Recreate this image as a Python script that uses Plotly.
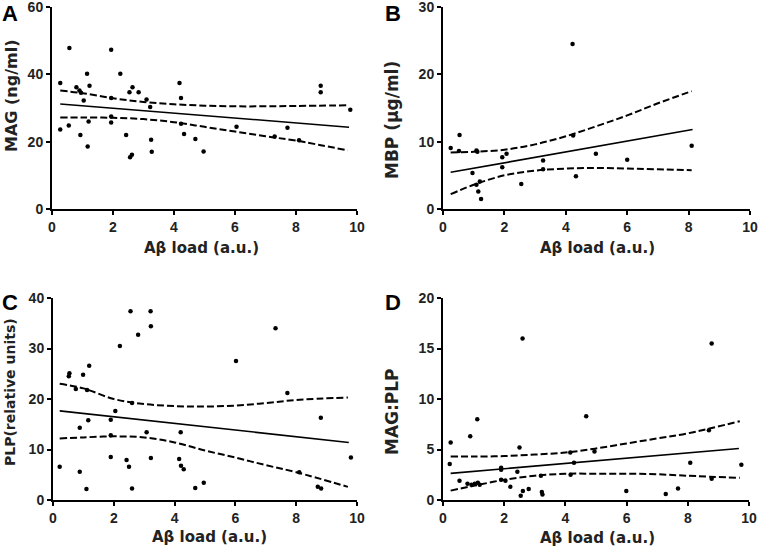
import plotly.graph_objects as go

# ---------------- Data ----------------
# Panel A: MAG (ng/ml)
A_x = [0.27, 0.27, 0.57, 0.55, 0.8, 0.9, 0.95, 1.04, 0.93, 1.15, 1.17, 1.23, 1.2,
       1.94, 1.94, 1.94, 1.94, 2.24, 2.43, 2.54, 2.64, 2.84, 2.56, 2.62, 3.1, 3.22,
       3.25, 3.27, 4.18, 4.23, 4.23, 4.33, 4.7, 4.97, 6.05, 7.3, 7.72, 8.1, 8.81, 8.81, 9.78]
A_y = [37.4, 23.6, 47.8, 24.8, 36.2, 35.2, 34.5, 32.2, 22.0, 40.2, 18.6, 36.6, 26.0,
       47.3, 33.0, 27.5, 25.7, 40.2, 22.0, 34.7, 36.2, 34.7, 15.4, 16.1, 32.5, 30.3,
       20.6, 17.0, 37.4, 33.0, 25.3, 22.3, 20.8, 17.1, 24.4, 21.5, 24.1, 20.4, 36.6, 34.7, 29.5]
A_fit_x = [0.27, 9.74]
A_fit_y = [31.2, 24.3]
A_ci_x = [0.27, 1, 2, 3, 4, 5, 6, 7, 8, 9.7]
A_upper = [35.2, 34.4, 32.9, 31.8, 31.1, 30.7, 30.5, 30.5, 30.6, 30.8]
A_lower = [27.2, 27.2, 27.1, 26.7, 25.8, 24.4, 23.0, 21.6, 20.3, 17.4]

# Panel B: MBP (ug/ml)
B_x = [0.25, 0.54, 0.52, 0.96, 1.09, 1.12, 1.09, 1.2, 1.15, 1.24, 1.93, 2.07, 1.93,
       2.55, 3.26, 3.26, 4.22, 4.24, 4.33, 4.98, 6.0, 8.1]
B_y = [9.06, 11.0, 8.6, 5.35, 8.7, 8.5, 3.6, 4.1, 2.6, 1.5, 7.7, 8.2, 6.2,
       3.7, 7.2, 5.9, 24.5, 10.9, 4.85, 8.2, 7.3, 9.4]
B_fit_x = [0.25, 8.13]
B_fit_y = [5.45, 11.8]
B_ci_x = [0.25, 1, 2, 3, 4, 5, 6, 7, 8.1]
B_upper = [8.4, 8.5, 8.8, 9.6, 10.8, 12.3, 13.9, 15.7, 17.5]
B_lower = [2.2, 3.6, 5.0, 5.7, 6.0, 6.1, 6.0, 5.9, 5.75]

# Panel C: PLP (relative units)
C_x = [0.22, 0.52, 0.54, 0.75, 0.88, 0.88, 0.99, 1.1, 1.12, 1.19, 1.16, 1.9, 1.9, 1.9,
       2.05, 2.2, 2.42, 2.5, 2.55, 2.6, 2.6, 2.8, 3.08, 3.21, 3.22, 3.22, 4.15, 4.2,
       4.21, 4.3, 4.68, 4.96, 6.02, 7.32, 7.71, 8.1, 8.81, 8.71, 8.82, 9.8]
C_y = [6.6, 24.5, 25.1, 22.0, 14.3, 5.6, 24.8, 2.2, 21.8, 26.6, 15.8, 15.9, 12.8, 8.5,
       17.6, 30.5, 7.9, 6.6, 37.4, 2.3, 19.2, 32.7, 13.4, 37.4, 34.4, 8.3, 8.1, 13.4,
       6.8, 6.1, 2.4, 3.4, 27.5, 34.0, 21.2, 5.5, 16.3, 2.6, 2.3, 8.4]
C_fit_x = [0.22, 9.73]
C_fit_y = [17.65, 11.4]
C_ci_x = [0.22, 1, 2, 3, 4, 5, 6, 7, 8, 9.7]
C_upper = [23.0, 22.1, 20.0, 19.0, 18.6, 18.5, 18.7, 19.2, 19.8, 20.3]
C_lower = [12.2, 12.4, 12.6, 12.4, 11.4, 9.8, 8.4, 6.9, 5.5, 2.6]

# Panel D: MAG:PLP
D_x = [0.25, 0.22, 0.54, 0.89, 0.8, 0.93, 1.04, 1.14, 1.2, 1.12, 1.9, 1.9, 1.9, 2.04,
       2.2, 2.43, 2.5, 2.54, 2.6, 2.61, 2.8, 3.2, 3.23, 3.25, 4.16, 4.17, 4.28, 4.68,
       4.95, 5.99, 7.28, 7.68, 8.08, 8.78, 8.69, 8.78, 9.75]
D_y = [5.7, 3.57, 1.9, 6.3, 1.6, 1.5, 1.6, 1.7, 1.5, 8.0, 3.0, 3.2, 2.0, 1.9,
       1.3, 2.8, 5.2, 0.43, 16.0, 0.9, 1.1, 2.4, 0.8, 0.55, 4.7, 2.5, 3.7, 8.3,
       4.8, 0.9, 0.6, 1.15, 3.7, 15.5, 6.9, 2.1, 3.5]
D_fit_x = [0.25, 9.67]
D_fit_y = [2.64, 5.1]
D_ci_x = [0.25, 1, 2, 3, 4, 5, 6, 7, 8, 9.7]
D_upper = [4.3, 4.3, 4.35, 4.5, 4.7, 5.1, 5.6, 6.1, 6.6, 7.8]
D_lower = [0.93, 1.4, 2.0, 2.4, 2.6, 2.6, 2.6, 2.55, 2.4, 2.2]

X_TITLE = "Aβ load (a.u.)"
Y_TITLES = ["MAG (ng/ml)", "MBP (μg/ml)", "PLP(relative units)", "MAG:PLP"]
PANEL_LETTERS = ["A", "B", "C", "D"]
Y_RANGES = [[0, 60], [0, 30], [0, 40], [0, 20]]
Y_DTICKS = [20, 10, 10, 5]

panels = [
    (A_x, A_y, A_fit_x, A_fit_y, A_ci_x, A_upper, A_lower),
    (B_x, B_y, B_fit_x, B_fit_y, B_ci_x, B_upper, B_lower),
    (C_x, C_y, C_fit_x, C_fit_y, C_ci_x, C_upper, C_lower),
    (D_x, D_y, D_fit_x, D_fit_y, D_ci_x, D_upper, D_lower),
]

W, H = 759, 551
# pixel boxes: (left, right, top, bottom)
boxes = [(52, 357, 7, 209), (443, 750, 7, 209), (53, 357, 298, 500), (443, 749, 298, 500)]

TICK_FONT = "Liberation Sans"
TITLE_FONT = "DejaVu Sans"
fig = go.Figure()
layout = dict(width=W, height=H, margin=dict(l=0, r=0, t=0, b=0, autoexpand=False),
              paper_bgcolor="white", plot_bgcolor="white", showlegend=False)
annotations = []

for i, (px, py, fx, fy, cx, cu, cl) in enumerate(panels):
    n = "" if i == 0 else str(i + 1)
    xa, ya = "x" + n, "y" + n
    fig.add_trace(go.Scatter(x=px, y=py, mode="markers", xaxis=xa, yaxis=ya,
                             marker=dict(color="black", size=4.5), cliponaxis=False))
    fig.add_trace(go.Scatter(x=fx, y=fy, mode="lines", xaxis=xa, yaxis=ya,
                             line=dict(color="black", width=1.6)))
    for band in (cu, cl):
        fig.add_trace(go.Scatter(x=cx, y=band, mode="lines", xaxis=xa, yaxis=ya,
                                 line=dict(color="black", width=2, dash="7px,3px", shape="spline")))
    l, r, t, b = boxes[i]
    axis_common = dict(showline=True, linecolor="black", linewidth=2, ticks="outside",
                       ticklen=4, tickwidth=2, tickcolor="black", showgrid=False, zeroline=False,
                       ticklabeloverflow="allow", automargin=False,
                       tickfont=dict(family=TICK_FONT, size=14, color="#222", weight="bold"))
    layout["xaxis" + n] = dict(domain=[l / W, r / W], range=[0, 10], dtick=2, anchor=ya,
                               **axis_common)
    layout["yaxis" + n] = dict(domain=[1 - b / H, 1 - t / H], range=Y_RANGES[i],
                               dtick=Y_DTICKS[i], anchor=xa, **axis_common)

# text placements (pixels)
letter_pos = [(10, 13), (393, 13), (10, 302), (393, 302)]
ytitle_pos = [(11, 96), (392, 120), (10, 392), (392, 412)]
ytitle_size = [16, 17, 14, 17]
xtitle_pos = [(202, 248), (597, 248), (209, 537), (597, 538)]
for i in range(4):
    lx, ly = letter_pos[i]
    annotations.append(dict(text=PANEL_LETTERS[i], x=lx / W, y=1 - ly / H, xref="paper", yref="paper",
                            showarrow=False, xanchor="center", yanchor="middle",
                            font=dict(family=TICK_FONT, size=22, color="black", weight="bold")))
    tx, ty = ytitle_pos[i]
    annotations.append(dict(text=Y_TITLES[i], x=tx / W, y=1 - ty / H, xref="paper", yref="paper",
                            showarrow=False, textangle=-90, xanchor="center", yanchor="middle",
                            font=dict(family=TITLE_FONT, size=ytitle_size[i], color="#222",
                                      weight="bold")))
    qx, qy = xtitle_pos[i]
    annotations.append(dict(text=X_TITLE, x=qx / W, y=1 - qy / H, xref="paper", yref="paper",
                            showarrow=False, xanchor="center", yanchor="middle",
                            font=dict(family=TITLE_FONT, size=15, color="#222", weight="bold")))

layout["annotations"] = annotations
fig.update_layout(**layout)
fig.write_html("out.html", config={"displayModeBar": False},
               post_script="document.body.style.margin='0px';")
